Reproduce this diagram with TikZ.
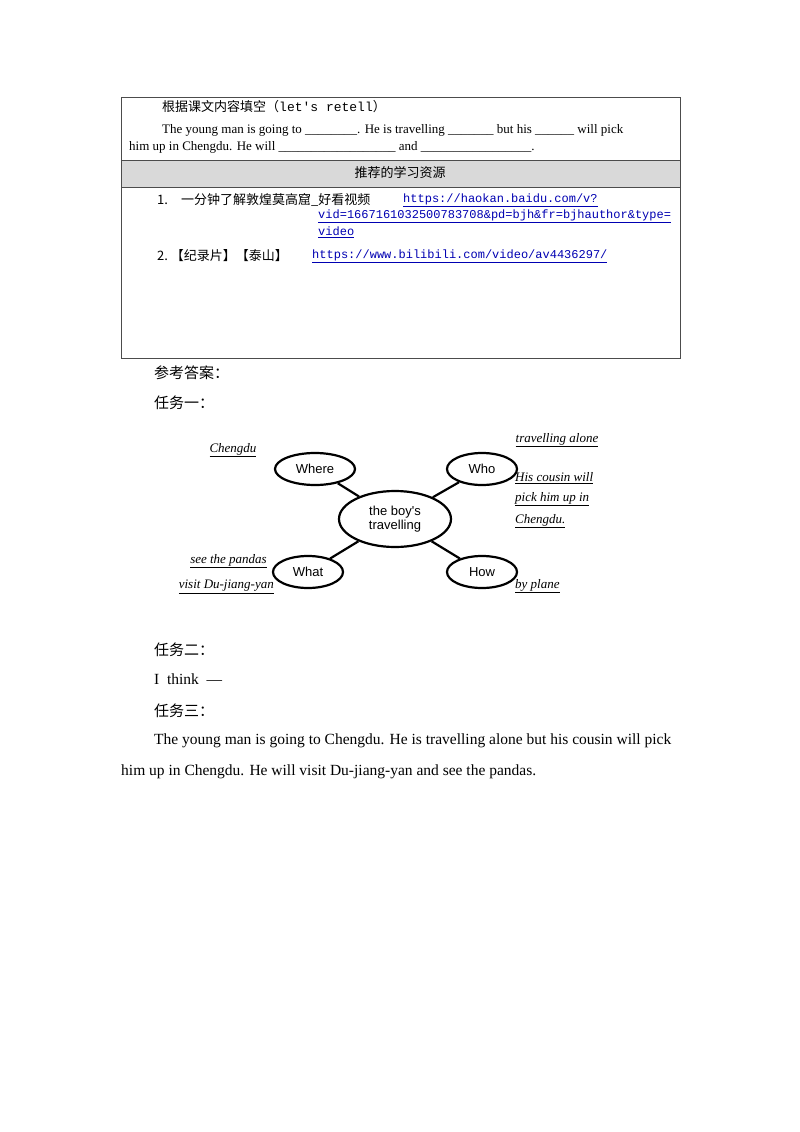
\documentclass[tikz,border=0pt]{standalone}
\usepackage{fontspec}
\usetikzlibrary{shapes.geometric}
\setmainfont{Liberation Serif}
\newfontfamily\cjk{Noto Sans CJK SC}
\newfontfamily\mono{Liberation Mono}
\newfontfamily\ar{Liberation Sans}
\newcommand\myul[1]{\underline{#1}}
\begin{document}
\begin{tikzpicture}[x=1pt,y=-1pt,
  ov/.style={draw,line width=2.2pt,ellipse,inner sep=0pt,font=\ar\fontsize{13}{14}\selectfont},
  lnk/.style={draw,line width=2.2pt},
  ans/.style={font=\itshape\fontsize{13}{14}\selectfont,inner sep=0pt},
  tx/.style={anchor=west,inner sep=0pt,font=\fontsize{13}{14}\selectfont},
  bt/.style={anchor=west,inner sep=0pt,font=\fontsize{15.5}{17}\selectfont},
  url/.style={anchor=west,inner sep=0pt,text=blue!70!black,font=\mono\fontsize{12}{13}\selectfont}]
\useasboundingbox (0,0) rectangle (800,1132);
\fill[white] (0,0) rectangle (800,1132);
% table
\fill[gray!30] (121,160) rectangle (680,187);
\draw[gray!60!black,line width=0.8pt] (121,97) rectangle (680,358);
\draw[gray!60!black,line width=0.8pt] (121,160) -- (680,160) (121,187) -- (680,187);
\node[tx] (t1) at (162,107) {{\cjk 根据课文内容填空（}{\mono let's retell}{\cjk ）}};
\node[tx] (t2) at (162,130) {The young man is going to \_\_\_\_\_\_\_\_. He is travelling \_\_\_\_\_\_\_ but his \_\_\_\_\_\_ will pick};
\node[tx] (t3) at (129,147) {him up in Chengdu. He will \_\_\_\_\_\_\_\_\_\_\_\_\_\_\_\_\_\_ and \_\_\_\_\_\_\_\_\_\_\_\_\_\_\_\_\_.};
\node[inner sep=0pt,font=\cjk\fontsize{13}{14}\selectfont] (t4) at (400,173) {推荐的学习资源};
\node[tx,font=\cjk\fontsize{13}{14}\selectfont] (t5) at (157,200) {1.\quad 一分钟了解敦煌莫高窟\_好看视频};
\node[url] (u1) at (403,200) {\myul{https://haokan.baidu.com/v?}};
\node[url] (u2) at (318,216) {\myul{vid=1667161032500783708\&pd=bjh\&fr=bjhauthor\&type=}};
\node[url] (u3) at (318,232) {\myul{video}};
\node[tx,font=\cjk\fontsize{13}{14}\selectfont] (t6) at (157,256) {2.\ 【纪录片】【泰山】};
\node[url] (u4) at (312,256) {\myul{https://www.bilibili.com/video/av4436297/}};
% body text
\node[bt,font=\cjk\fontsize{15}{16}\selectfont] (a1) at (154,373) {参考答案：};
\node[bt,font=\cjk\fontsize{15}{16}\selectfont] (a2) at (154,403) {任务一：};
\node[bt,font=\cjk\fontsize{15}{16}\selectfont] (a3) at (154,650) {任务二：};
\node[bt] (a4) at (154,679) {I\ \ think\ \ ---};
\node[bt,font=\cjk\fontsize{15}{16}\selectfont] (a5) at (154,711) {任务三：};
\node[bt] (a6) at (154,741) {The young man is going to Chengdu. He is travelling alone but his cousin will pick};
\node[bt] (a7) at (121,772) {him up in Chengdu. He will visit Du-jiang-yan and see the pandas.};
% mind map
\node[ov,minimum width=112pt,minimum height=56pt,align=center] (c) at (395,519) {the boy's\\travelling};
\node[ov,minimum width=80pt,minimum height=32pt] (wh) at (315,469) {Where};
\node[ov,minimum width=70pt,minimum height=32pt] (wo) at (482,469) {Who};
\node[ov,minimum width=70pt,minimum height=32pt] (wt) at (308,572) {What};
\node[ov,minimum width=70pt,minimum height=32pt] (hw) at (482,572) {How};
\draw[lnk] (c) -- (wh); \draw[lnk] (c) -- (wo);
\draw[lnk] (c) -- (wt); \draw[lnk] (c) -- (hw);
\node[ans] (n1) at (233,450) {\myul{Chengdu}};
\node[ans] (n2) at (557,440) {\myul{travelling alone}};
\node[ans,anchor=west] (n3) at (515,478) {\myul{His cousin will}};
\node[ans,anchor=west] (n4) at (515,499) {\myul{pick him up in}};
\node[ans,anchor=west] (n5) at (515,521) {\myul{Chengdu.}};
\node[ans,anchor=east] (n6) at (267,561) {\myul{see the pandas}};
\node[ans,anchor=east] (n7) at (274,587) {\myul{visit Du-jiang-yan}};
\node[ans,anchor=west] (n8) at (515,586) {\myul{by plane}};
\end{tikzpicture}
\end{document}
